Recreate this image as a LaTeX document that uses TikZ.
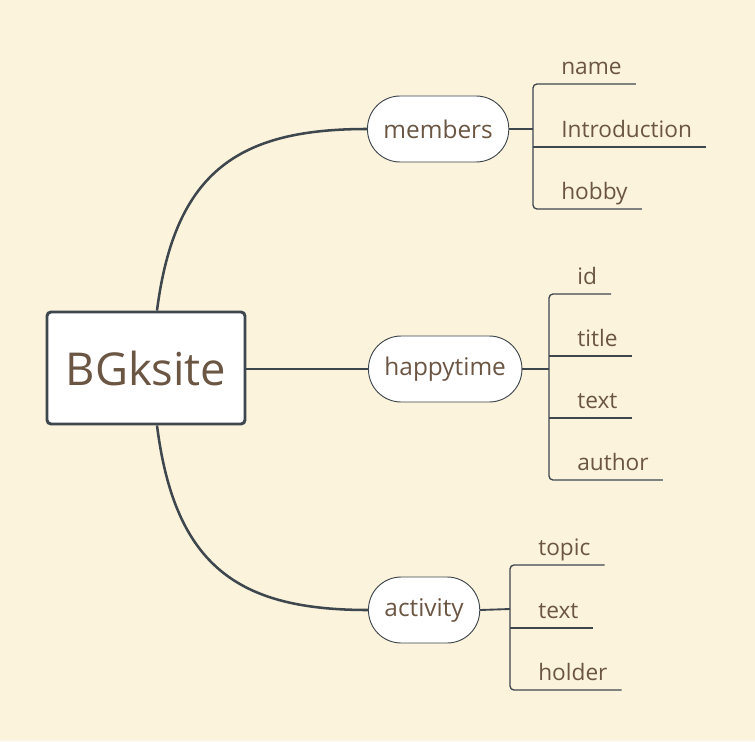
\documentclass[tikz,border=0pt]{standalone}
\usepackage{fontspec}
\setmainfont{Open Sans}
\usetikzlibrary{positioning}
\definecolor{paper}{RGB}{251,243,220}
\definecolor{ink}{RGB}{62,70,78}
\definecolor{wood}{RGB}{107,86,67}

\begin{document}
\begin{tikzpicture}[
  x=0.75pt, y=-0.75pt,
  root/.style={draw=ink, line width=2.2pt, rounded corners=3pt, fill=white, minimum width=148.5pt, minimum height=84pt, text=wood, font=\fontsize{34}{36}\selectfont},
  topic/.style={draw=ink, line width=0.7pt, rounded corners=24.5pt, fill=white, minimum height=49.5pt, inner xsep=12pt, text=wood, font=\fontsize{18.3}{20}\selectfont},
  leaf/.style={anchor=south west, inner xsep=10.5pt, inner ysep=7pt, text depth=0pt, text=wood, font=\fontsize{17}{18}\selectfont},
  branch/.style={draw=ink, line width=1.9pt},
  stub/.style={draw=ink, line width=1.4pt},
  rule/.style={draw=ink, line width=1pt, rounded corners=3pt}
]
\fill[paper] (0,0) rectangle (755,741);

\node[root] (site) at (146,368) {BGksite};
\node[topic, anchor=west] (members) at (367,129) {members};
\node[topic, anchor=west] (happy) at (368,369) {happytime};
\node[topic, anchor=west] (activity) at (368,610) {activity};

% main branches
\draw[branch] ([xshift=8.25pt]site.north) .. controls (175,170) and (240,129) .. (members.west);
\draw[branch] (site.east |- happy.west) -- (happy.west);
\draw[branch] ([xshift=8.25pt]site.south) .. controls (175,568) and (240,610) .. (activity.west);

% members
\coordinate (mj) at (533,129);
\draw[stub] (members.east) -- (mj);
\node[leaf] (name) at (547,84) {name};
\node[leaf] (intro) at (547,147) {Introduction};
\node[leaf] (hobby) at (547,209) {hobby};
\draw[rule] (name.south east) -- (name.south east -| mj) -- (hobby.south east -| mj) -- (hobby.south east);
\draw[rule] (mj |- intro.south) -- (intro.south east);

% happytime
\coordinate (hj) at (549,369);
\draw[stub] (happy.east) -- (hj);
\node[leaf] (id) at (563,294) {id};
\node[leaf] (title) at (563,356) {title};
\node[leaf] (htext) at (563,418) {text};
\node[leaf] (author) at (563,480) {author};
\draw[rule] (id.south east) -- (id.south east -| hj) -- (author.south east -| hj) -- (author.south east);
\draw[rule] (hj |- title.south) -- (title.south east);
\draw[rule] (hj |- htext.south) -- (htext.south east);

% activity
\coordinate (aj) at (510,609);
\draw[stub] (activity.east) -- (aj);
\node[leaf] (topic) at (524,565) {topic};
\node[leaf] (atext) at (524,628) {text};
\node[leaf] (holder) at (524,690) {holder};
\draw[rule] (topic.south east) -- (topic.south east -| aj) -- (holder.south east -| aj) -- (holder.south east);
\draw[rule] (aj |- atext.south) -- (atext.south east);

\end{tikzpicture}
\end{document}
